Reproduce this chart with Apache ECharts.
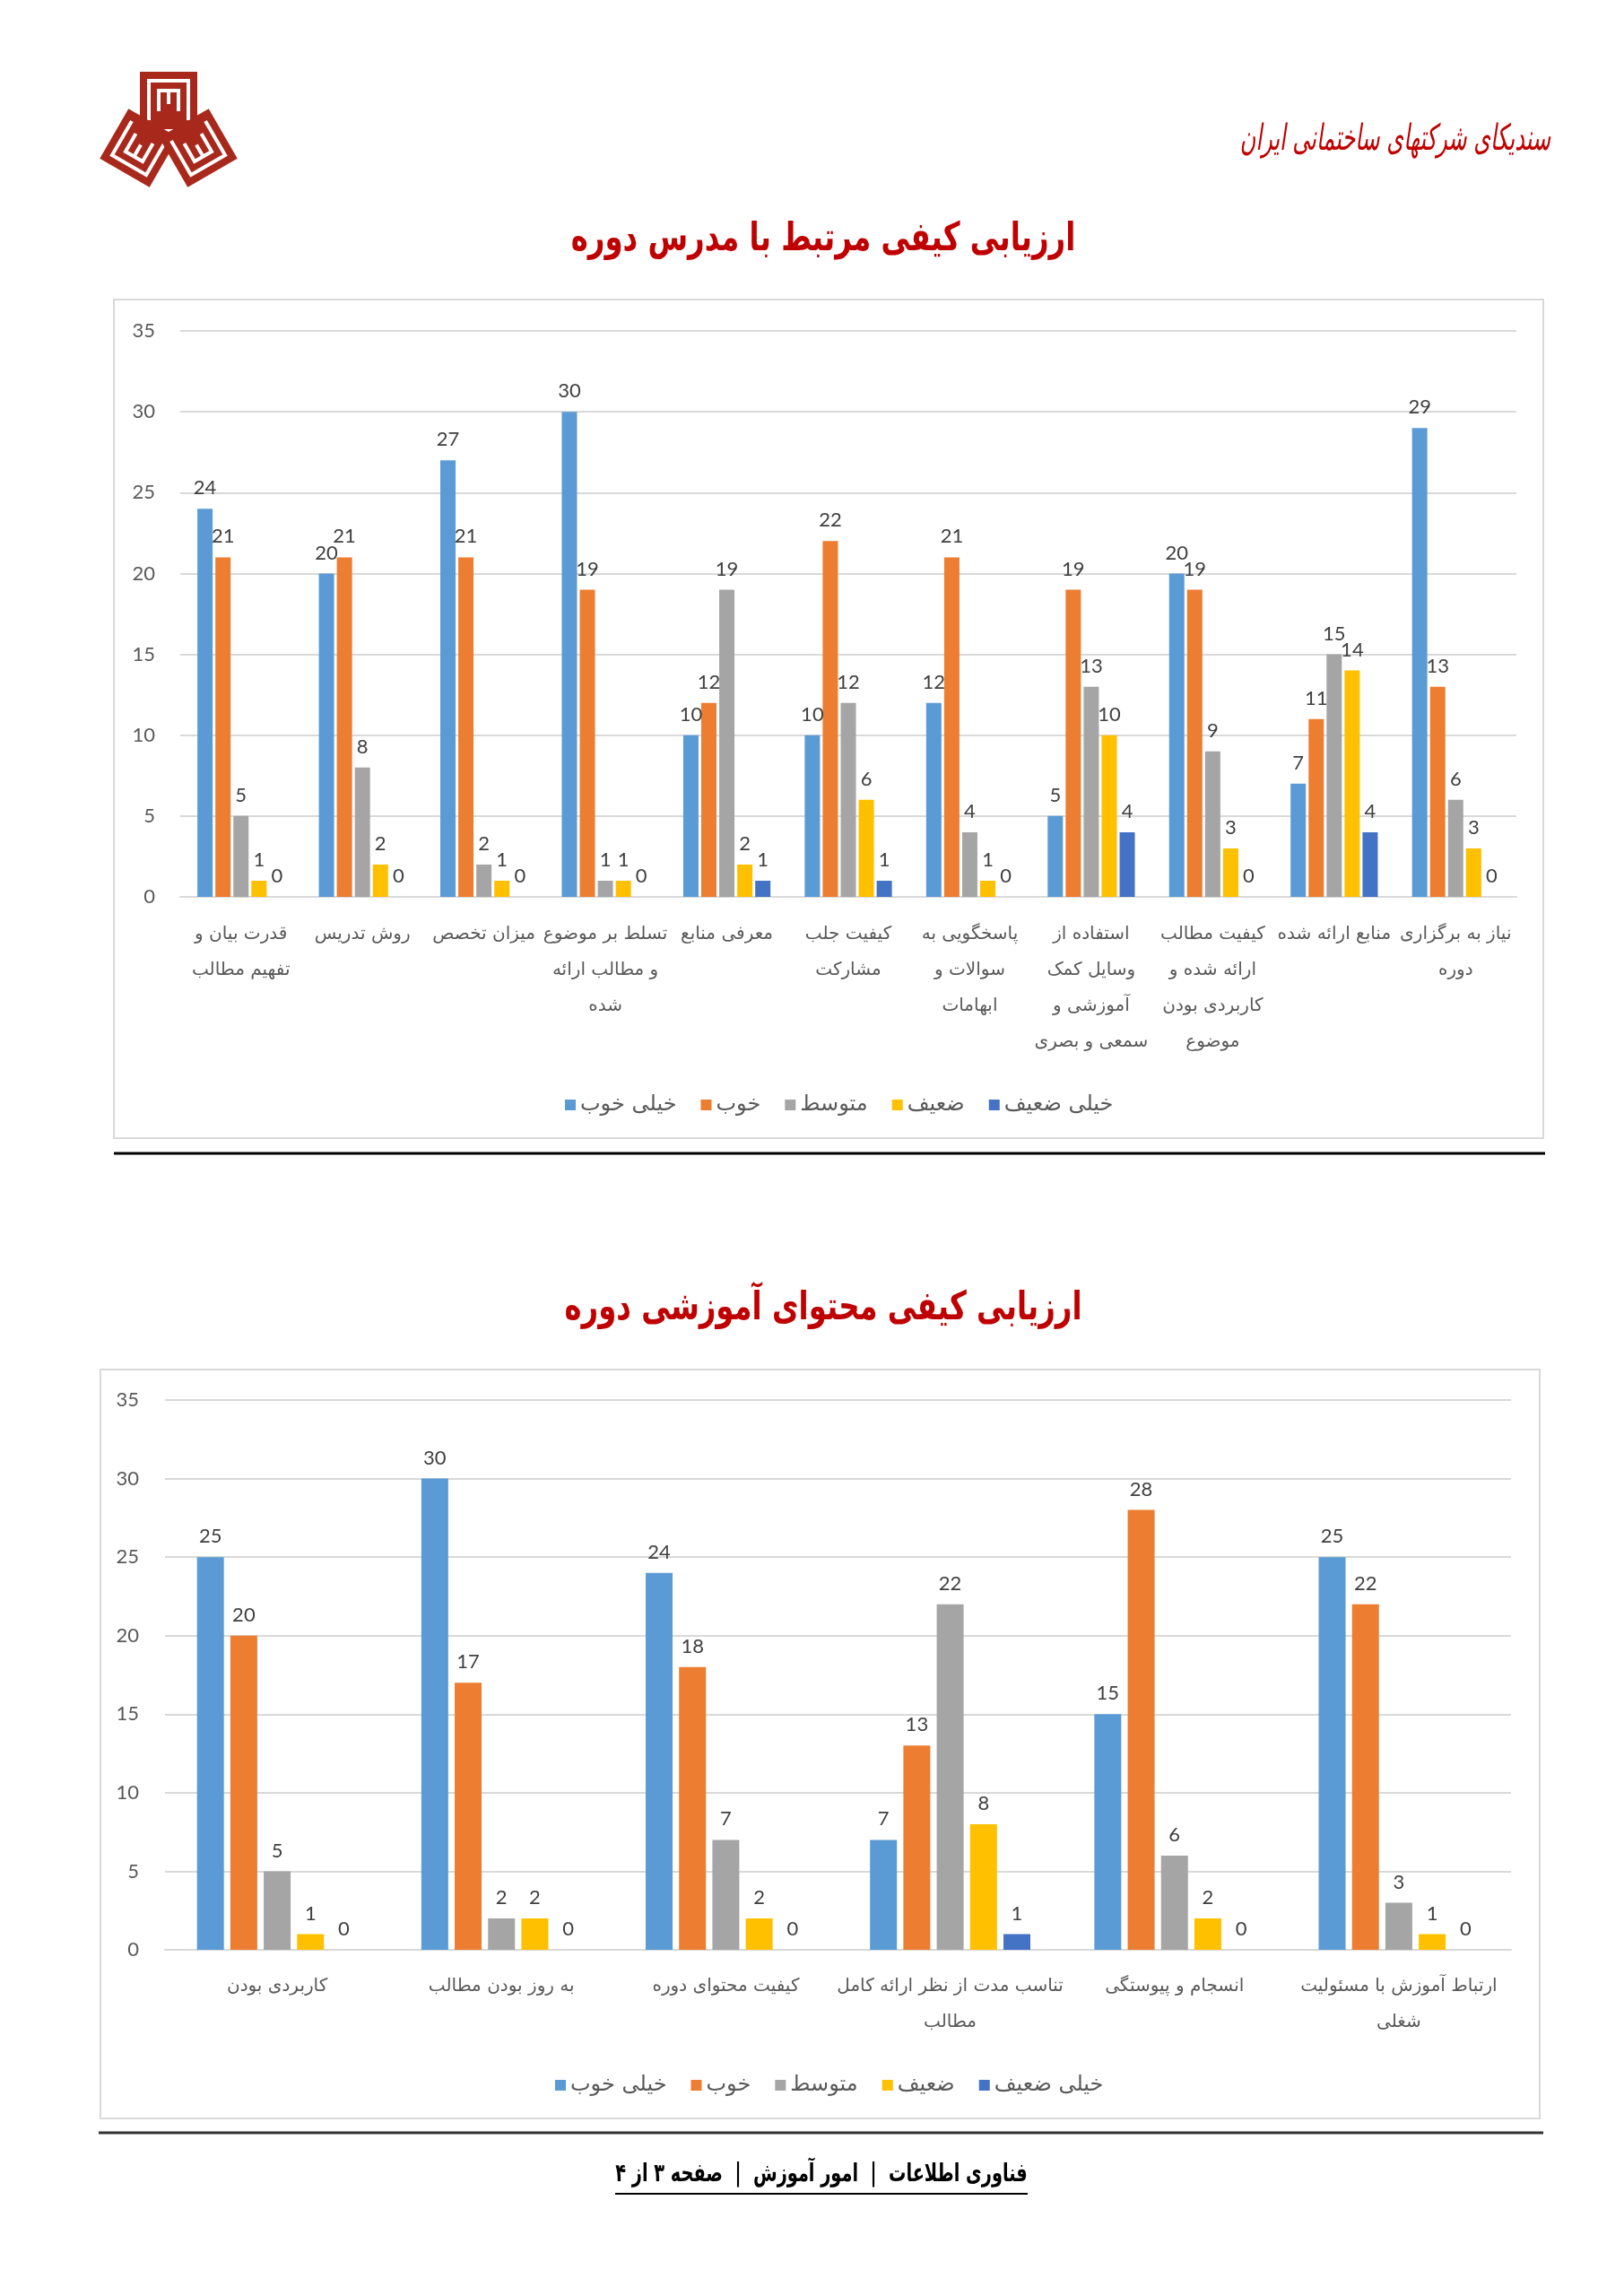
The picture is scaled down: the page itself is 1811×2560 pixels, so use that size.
<!DOCTYPE html>
<html>
<head>
<meta charset="utf-8">
<script src="https://cdn.jsdelivr.net/npm/echarts@6/dist/echarts.min.js"></script>
<style>
html,body{margin:0;padding:0;background:#fff;}
#c{width:1811px;height:2560px;}
</style>
</head>
<body>
<div id="c"></div>
<script>
// ---------- DATA ----------
const seriesNames = ['خیلی خوب', 'خوب', 'متوسط', 'ضعیف', 'خیلی ضعیف'];
const seriesColors = ['#5B9BD5', '#ED7D31', '#A5A5A5', '#FFC000', '#4472C4'];

const title1 = 'ارزیابی کیفی مرتبط با مدرس دوره';
const categories1 = [
  'قدرت بیان و\nتفهیم مطالب',
  'روش تدریس',
  'میزان تخصص',
  'تسلط بر موضوع\nو مطالب ارائه\nشده',
  'معرفی منابع',
  'کیفیت جلب\nمشارکت',
  'پاسخگویی به\nسوالات و\nابهامات',
  'استفاده از\nوسایل کمک\nآموزشی و\nسمعی و بصری',
  'کیفیت مطالب\nارائه شده و\nکاربردی بودن\nموضوع',
  'منابع ارائه شده',
  'نیاز به برگزاری\nدوره'
];
const veryGood1 = [24, 20, 27, 30, 10, 10, 12, 5, 20, 7, 29];
const good1     = [21, 21, 21, 19, 12, 22, 21, 19, 19, 11, 13];
const average1  = [5, 8, 2, 1, 19, 12, 4, 13, 9, 15, 6];
const weak1     = [1, 2, 1, 1, 2, 6, 1, 10, 3, 14, 3];
const veryWeak1 = [0, 0, 0, 0, 1, 1, 0, 4, 0, 4, 0];

const title2 = 'ارزیابی کیفی محتوای آموزشی دوره';
const categories2 = [
  'کاربردی بودن',
  'به روز بودن مطالب',
  'کیفیت محتوای دوره',
  'تناسب مدت از نظر ارائه کامل\nمطالب',
  'انسجام و پیوستگی',
  'ارتباط آموزش با مسئولیت\nشغلی'
];
const veryGood2 = [25, 30, 24, 7, 15, 25];
const good2     = [20, 17, 18, 13, 28, 22];
const average2  = [5, 2, 7, 22, 6, 3];
const weak2     = [1, 2, 2, 8, 2, 1];
const veryWeak2 = [0, 0, 0, 1, 0, 0];

const yMin = 0, yMax = 35, yInterval = 5;

const headerText = 'سندیکای شرکتهای ساختمانی ایران';
const footerText = 'فناوری اطلاعات  |  امور آموزش  |  صفحه ۳ از ۴';

// ---------- CHART ----------
const FA = "'DejaVu Sans', 'Noto Sans', sans-serif";
const NUM = "Lato, 'Open Sans', sans-serif";
const chart = echarts.init(document.getElementById('c'), null, {renderer: 'canvas'});

const data1 = [veryGood1, good1, average1, weak1, veryWeak1];
const data2 = [veryGood2, good2, average2, weak2, veryWeak2];

function mkSeries(dataSets, axisIdx, barWidth, barGap) {
  return dataSets.map((d, i) => ({
    type: 'bar',
    name: seriesNames[i],
    xAxisIndex: axisIdx,
    yAxisIndex: axisIdx,
    data: d,
    barWidth: barWidth,
    barGap: barGap,
    itemStyle: {color: seriesColors[i]},
    label: {show: true, position: 'top', distance: 12, fontSize: 22, color: '#404040', fontFamily: NUM}
  }));
}

function yAx(gridIndex, margin) {
  return {
    type: 'value', gridIndex, min: yMin, max: yMax, interval: yInterval,
    axisLine: {show: false}, axisTick: {show: false},
    splitLine: {lineStyle: {color: '#d9d9d9', width: 2}},
    axisLabel: {fontSize: 22, color: '#595959', fontFamily: NUM, margin}
  };
}
function xAx(gridIndex, cats, margin) {
  return {
    type: 'category', gridIndex, data: cats,
    axisLine: {show: true, lineStyle: {color: '#d9d9d9', width: 2}},
    axisTick: {show: false},
    axisLabel: {interval: 0, fontSize: 20, color: '#595959', fontFamily: FA, lineHeight: 40, margin}
  };
}

function logo() {
  const red = '#A8281C';
  const sq = (cx, cy, rot) => ({
    type: 'group', x: cx, y: cy, rotation: rot,
    children: [
      {type: 'rect', shape: {x: -32, y: -32, width: 64, height: 64}, style: {fill: red}},
      {type: 'polyline', shape: {points: [[-22, 22], [-22, -22], [22, -22], [22, 22]]}, style: {stroke: '#fff', lineWidth: 4, fill: null}},
      {type: 'polyline', shape: {points: [[-11, 12], [-11, -11], [11, -11], [11, 12]]}, style: {stroke: '#fff', lineWidth: 4, fill: null}},
      {type: 'line', shape: {x1: 0, y1: -11, x2: 0, y2: 4}, style: {stroke: '#fff', lineWidth: 4}}
    ]
  });
  return {
    type: 'group', children: [
      sq(188, 112, 0),
      sq(155, 165, -Math.PI / 6 + Math.PI),
      sq(221, 165, Math.PI / 6 + Math.PI)
    ]
  };
}

function txt(text, x, y, size, sx, extra) {
  return {
    type: 'text', x: x, y: y, scaleX: sx, scaleY: 1,
    style: Object.assign({text: text, x: 0, y: 0, align: 'center', verticalAlign: 'middle',
      fontSize: size, fontFamily: FA}, extra)
  };
}

const legendBase = {data: seriesNames, itemWidth: 12, itemHeight: 12, itemGap: 27, icon: 'rect',
  textStyle: {fontSize: 24, color: '#595959', fontFamily: FA}};

const option = {
  backgroundColor: '#fff',
  animation: false,
  grid: [
    {left: 201, top: 369, width: 1490, height: 631, containLabel: false},
    {left: 184, top: 1561, width: 1501, height: 613, containLabel: false}
  ],
  xAxis: [xAx(0, categories1, 22), xAx(1, categories2, 21)],
  yAxis: [yAx(0, 28), yAx(1, 29)],
  legend: [
    Object.assign({left: 625, top: 1215}, legendBase),
    Object.assign({left: 614, top: 2308}, legendBase)
  ],
  series: [...mkSeries(data1, 0, 17, '18%'), ...mkSeries(data2, 1, 30, '24%')],
  graphic: [
    logo(),
    txt(headerText, 1556, 157, 40, 0.6, {fontStyle: 'italic', fill: '#C00000'}),
    txt(title1, 918, 268, 44, 0.735, {fontWeight: 'bold', fill: '#C00000'}),
    {type: 'rect', shape: {x: 127, y: 334, width: 1594, height: 935}, style: {fill: null, stroke: '#d9d9d9', lineWidth: 2}, z: -1},
    {type: 'line', shape: {x1: 127, y1: 1286, x2: 1723, y2: 1286}, style: {stroke: '#000', lineWidth: 3}},
    txt(title2, 918, 1460, 44, 0.735, {fontWeight: 'bold', fill: '#C00000'}),
    {type: 'rect', shape: {x: 112, y: 1527, width: 1605, height: 835}, style: {fill: null, stroke: '#d9d9d9', lineWidth: 2}, z: -1},
    {type: 'line', shape: {x1: 110, y1: 2378, x2: 1721, y2: 2378}, style: {stroke: '#333', lineWidth: 3}},
    txt(footerText, 916, 2425, 28, 0.69, {fontWeight: 'bold', fill: '#000'}),
    {type: 'line', shape: {x1: 686, y1: 2446, x2: 1146, y2: 2446}, style: {stroke: '#000', lineWidth: 2}}
  ]
};
chart.setOption(option);
</script>
</body>
</html>
